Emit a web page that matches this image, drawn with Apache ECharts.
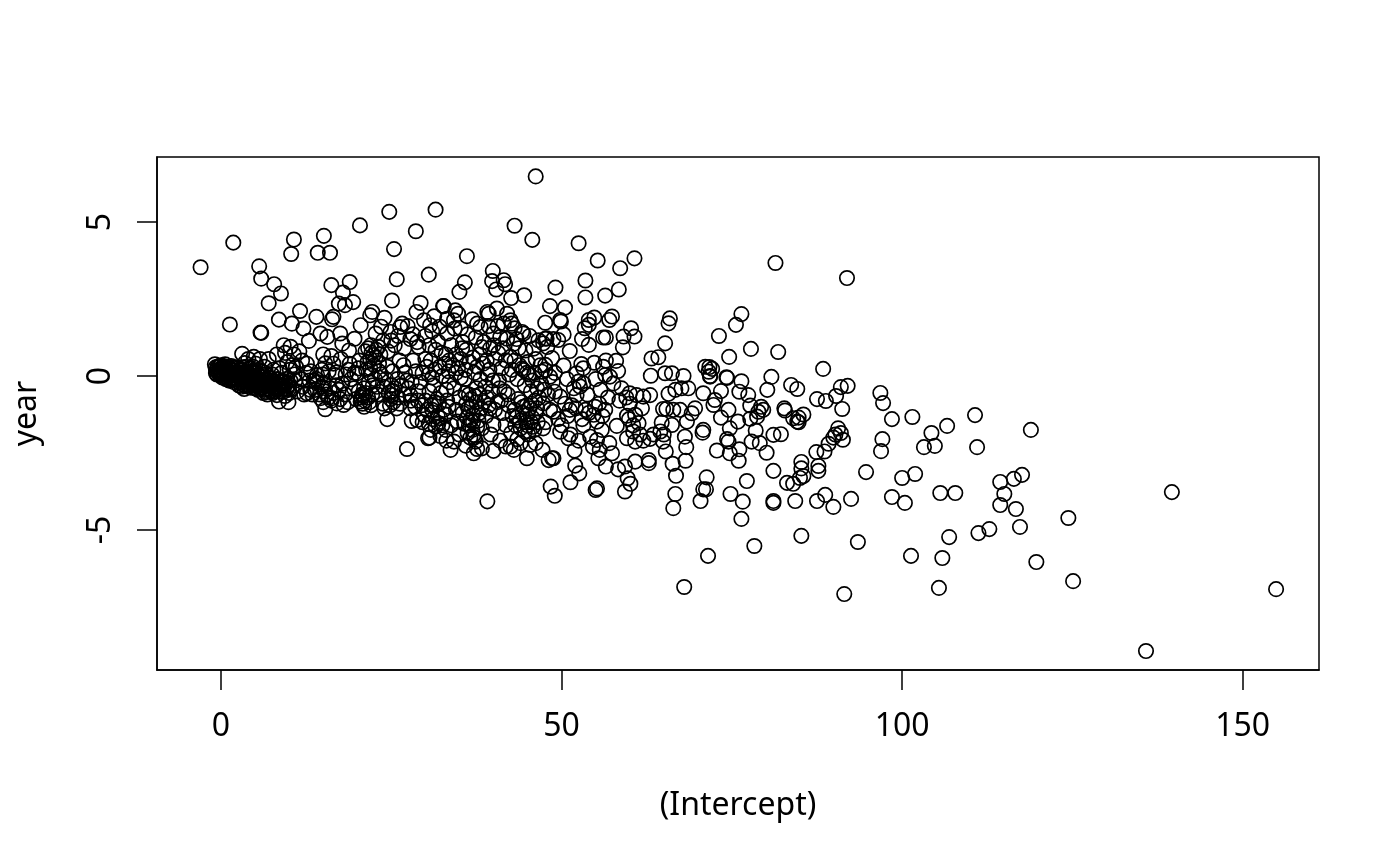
<!DOCTYPE html>
<html><head><meta charset="utf-8">
<script src="https://cdn.jsdelivr.net/npm/echarts@6/dist/echarts.min.js"></script>
<style>html,body{margin:0;padding:0;background:#fff}#c{width:1400px;height:866px}</style>
</head><body><div id="c"></div>
<script>
const xTicks=[0,50,100,150];
const yTicks=[-5,0,5];
const xName='(Intercept)';
const yName='year';
const pointsRight=[[154.9,-6.92],[135.8,-8.93],[139.6,-3.77],[125.1,-6.66],[124.4,-4.61],[119.7,-6.04],[118.9,-1.75],[117.6,-3.21],[116.4,-3.34],[114.4,-3.44],[115,-3.83],[114.4,-4.19],[116.7,-4.32],[117.3,-4.9],[112.8,-4.97],[111.2,-5.1],[106.9,-5.23],[105.9,-5.91],[105.4,-6.88],[101.3,-5.84],[93.5,-5.39],[91.5,-7.08],[71.5,-5.84],[68,-6.85],[78.3,-5.52],[76.4,-4.64],[85.2,-5.19],[89.9,-4.25],[92.5,-3.99],[87.5,-4.06],[88.7,-3.86],[84.3,-4.06],[81.1,-4.12],[81.1,-4.06],[83.1,-3.47],[84,-3.5],[81.1,-3.08],[85.5,-3.25],[85,-3.31],[85.2,-3],[85.2,-2.79],[87.7,-3.08],[87.7,-2.92],[87.4,-2.47],[94.7,-3.12],[98.5,-3.93],[100.4,-4.12],[100,-3.31],[101.9,-3.18],[105.6,-3.8],[107.8,-3.8],[111,-2.31],[110.7,-1.27],[106.6,-1.62],[104.3,-1.85],[104.8,-2.27],[103.2,-2.31],[101.5,-1.33],[98.5,-1.4],[97.2,-0.88],[96.8,-0.55],[97.1,-2.05],[96.9,-2.44],[92,-0.32],[91,-0.36],[91.2,-1.07],[90.3,-0.65],[88.8,-0.81],[87.5,-0.75],[88.4,0.23],[91.9,3.18],[81.4,3.67],[81.8,0.78],[77.8,0.88],[76.4,2.01],[75.6,1.66],[73.1,1.3],[74.6,0.62],[71.7,0.29],[72.1,0.23],[71.8,0],[74.3,-0.06],[80.8,-0.03],[80.2,-0.45],[83.7,-0.29],[84.6,-0.42],[91.3,-2.07],[90.6,-1.7],[91,-1.85],[90.2,-1.9],[89.9,-2],[88.6,-2.45],[89.2,-2.2],[82.7,-1.05],[82.8,-1.12],[84.8,-1.5],[85.5,-1.25]];
const pointsMiddle=[[52.5,4.31],[55.3,3.75],[58.6,3.5],[60.7,3.82],[53.5,3.1],[53.5,2.55],[56.4,2.61],[58.4,2.81],[50.5,2.22],[65.2,1.06],[65.9,1.87],[65.7,1.71],[60.2,1.55],[60.7,1.28],[59.1,1.28],[59,0.93],[57.4,1.93],[57,1.82],[54.8,1.9],[54,1.82],[54,1.66],[53.4,1.55],[53,1.2],[54,1.01],[56.1,1.25],[56.5,1.25],[51.2,0.81],[49.8,1.82],[49.9,1.77],[50.3,1.35],[49.5,1.17],[47.8,1.22],[47.3,1.06],[48.6,0.58],[47.6,0.36],[50.3,0.34],[52.9,0.39],[54.8,0.43],[56.5,0.5],[58,0.49],[56.1,0.3],[58.3,0.16],[52.2,0.09],[53.2,0.25],[48.3,-0.02],[47.1,0.14],[52.7,-0.34],[52.5,-0.18],[53.2,-0.24],[57.1,-0.02],[56.4,0.03],[57.6,-0.24],[55.7,-0.45],[58.8,-0.4],[60,-0.56],[61,-0.62],[63,-0.62],[62,-0.67],[63.1,0.01],[63.2,0.57],[64.2,0.61],[65.2,0.09],[66.2,0.09],[67.9,0],[65.7,-0.58],[66.7,-0.45],[67.6,-0.4],[68.6,-0.4],[71.1,0.3],[71.6,0.14],[71.8,-0.02],[74.2,-0.04],[76.4,-0.17],[73.4,-0.49],[70.8,-0.56],[76.1,-0.51],[77.4,-0.62],[77.7,-0.96],[79.3,-1],[79.6,-1.1],[78.9,-1.16],[78.7,-1.32],[77.7,-1.39],[84.8,-1.35],[84.6,-1.48],[84,-1.37],[82.2,-1.89],[81.1,-1.91],[78.5,-1.77],[75.9,-1.48],[74.7,-1.7],[74.5,-1.1],[73.4,-1.35],[72.3,-0.94],[72.5,-0.78],[70.8,-1.75],[70.7,-1.84],[68.4,-1.48],[69.6,-1.05],[69.1,-1.21],[67.4,-1.1],[66.4,-1.1],[65.4,-1.07],[64.9,-1.07],[64.7,-1.51],[66.2,-1.59],[64.5,-1.8],[63,-2.04],[61.8,-1.05],[59.6,-1.29],[60.8,-1.26],[61.3,-1.53],[60.5,-1.8],[59.6,-2.02],[60.8,-2.13],[58.1,-1.62],[56.4,-1.1],[54.9,-1],[54.7,-1.26],[55.2,-1.48],[55.9,-1.75],[54.2,-1.97],[55.2,-2.08],[57,-2.18],[55.6,-2.4],[57.4,-2.51],[55.4,-2.67],[56.5,-2.94],[58.3,-3.03],[59.3,-2.94],[60.8,-2.78],[62.8,-2.73],[62.8,-2.83],[64.9,-2.13],[65.3,-2.45],[66.3,-2.85],[68.2,-2.75],[68.3,-2.31],[68.1,-1.97],[66.8,-3.24],[66.7,-3.83],[66.4,-4.29],[70.4,-4.06],[70.8,-3.68],[71.2,-3.68],[71.3,-3.29],[77.2,-3.41],[74.8,-3.83],[76.6,-4.08],[72.8,-2.42],[74.3,-2.05],[74.5,-2.13],[74.7,-2.51],[76,-2.75],[76.1,-2.38],[77.9,-2.13],[79.1,-2.18],[80.1,-2.49],[59.3,-3.75],[60.1,-3.5],[59.7,-3.32],[55.2,-3.65],[55,-3.7],[51.3,-3.45],[52.6,-3.16],[52,-2.91],[49,-3.89],[48.4,-3.59],[48.8,-2.67],[48.1,-2.73],[51.9,-2.42],[51,-2.02],[49.8,-1.81],[47.3,-1.7],[51.2,-1.1],[48.8,-1.16],[49.8,-0.67],[52.2,-0.62],[49,-0.51],[48.3,-1.1],[47.3,-0.89],[50.5,-0.9],[50.9,-1.3],[51.5,-0.95],[52.1,-1.05],[53,-1.4],[53.5,-1.1],[54,-1.2],[55.5,-0.9],[56,-1.3],[48,-0.6],[47.6,-1.5],[49.5,-1.4],[50,-1.6],[51.3,-1.9],[52.5,-2.1],[53.2,-1.6],[54.6,-2.3],[48.7,-0.2],[50.8,-0.1],[49,0.1],[51.8,-0.4],[53.8,-0.6],[55,-0.1],[56.8,-0.7],[58.5,-0.8],[59.5,-0.7],[59.9,-1.4],[60.5,-1.6],[61.5,-1.9],[62,-2.1],[63.5,-1.9],[65,-1.9],[60,-0.9]];
const pointsUpperLeft=[[46.2,6.48],[24.7,5.33],[31.5,5.4],[20.4,4.89],[43.1,4.88],[28.6,4.7],[45.7,4.42],[1.8,4.33],[10.7,4.43],[15.1,4.55],[10.3,3.96],[14.2,4],[16,4],[25.4,4.12],[36.1,3.89],[-3,3.53],[5.6,3.56],[5.9,3.16],[7.8,2.98],[8.8,2.68],[7,2.36],[16.2,2.95],[18.9,3.05],[17.9,2.71],[19.4,2.4],[18.2,2.3],[17.3,2.35],[25.8,3.14],[30.5,3.29],[35.8,3.04],[35,2.73],[25.1,2.45],[39.9,3.41],[39.8,3.08],[41.5,3.11],[41.7,2.98],[40.4,2.81],[42.6,2.53],[44.5,2.62],[49.1,2.87],[48.3,2.27],[47.6,1.73],[1.3,1.67],[5.8,1.41],[5.9,1.4],[11.6,2.11],[8.5,1.83],[10.4,1.7],[12.1,1.54],[14,1.92],[16.3,1.84],[16.5,1.92],[14.6,1.38],[15.6,1.27],[12.9,1.14],[17.5,1.38],[17.8,1.05],[18.8,0.83],[19.6,1.21],[20.5,1.65],[21.9,1.97],[22.2,2.08],[24,1.89],[22.7,1.38],[24.9,1.43],[26.3,1.59],[26.6,1.7],[28.7,2.08],[29.3,2.37],[29.8,1.81],[30.7,1.65],[31.3,1.94],[32.6,2.27],[32.7,2.27],[34.4,2.13],[34.8,2.02],[33.2,1.86],[34.2,1.81],[33.2,1.38],[34.3,1.54],[35.5,1.1],[36.9,1.84],[37.6,1.7],[38.1,1.59],[39.1,2.08],[39.3,2.02],[40.5,2.19],[42,2.02],[41.5,1.7],[42.5,1.81],[42.7,1.7],[44.2,1.43],[44.4,1.38],[40,1.38],[41,1.27],[38.6,1.1],[38.3,0.94],[39.5,0.89],[42,1.21],[42.5,0.62],[41.8,0.51],[44.7,0.83],[45.9,0.89],[46.6,1.16],[47.6,1.21],[48.8,1.2],[47.9,0.94],[44.2,0.24],[44.4,0.19],[47.6,0.2],[46.9,0.35]];
const pointsLowerLeft=[[15.3,-1.08],[9.9,-0.85],[8.5,-0.83],[24,-1.05],[25.8,-1.05],[24.4,-1.4],[28,-1.46],[27.3,-2.37],[30.6,-2],[32.2,-1.95],[30.4,-2.02],[33.7,-2.4],[34.2,-2.13],[35.9,-2.26],[37.1,-2.51],[37.6,-2.37],[37.4,-2.13],[40,-2.43],[41.8,-2.29],[43,-2.4],[42.5,-2.29],[44.9,-2.67],[45.4,-2.24],[46.2,-2.18],[44,-2.18],[48.6,-2.67],[39.1,-4.07],[40,-1.59],[41.8,-1.59],[39.5,-1.05],[34.7,-1.48],[36.6,-1.43],[38.3,-1.7],[37.1,-1.91],[32.2,-1.37],[29.8,-1.27],[28.8,-1.43],[31.5,-1.64],[27.8,-1.05],[27.8,-0.62],[25.1,-0.62],[25.2,-0.48],[21,-1],[20.5,-0.83],[18,-0.94],[17,-0.89],[16.3,-0.72],[17.3,-0.45],[12.6,-0.56],[14.6,-0.72],[13.1,-0.45],[15.3,0.41],[14.1,0.03],[15.1,-0.24],[16.8,0.03],[17,0.12],[18.7,0.2],[20,0.09],[21.9,0.25],[22.4,0.68],[21,-0.4],[21.6,-0.7],[20.8,-0.9],[22,-0.95],[22.3,-0.3],[23,-0.6],[23.5,0.05],[20.3,0.5],[21.2,0.8],[22,1],[22.8,0.85],[21.5,0.45],[23.2,0.4],[24.5,0.8],[25.5,1],[26.2,0.5],[27,0.1],[28.2,0.5],[29,0.95],[30,0.55],[29.6,0.1],[28,-0.2],[26.5,-0.3],[24.2,-0.1],[30.5,0.05],[31.2,-0.3],[32.1,0.3],[33,0.7],[33.8,1],[35.2,0.55],[34.5,0.1],[33.5,-0.2],[35.8,-0.1],[36.5,0.45],[37.2,0.1],[38.5,0.4],[39.4,0.2],[40.2,0.55],[40.8,-0.15],[38.8,-0.35],[37.5,-0.4],[36.4,-0.6],[35,-0.7],[33.2,-0.8],[32,-0.9],[31,-1.1],[30,-0.8],[29,-0.5],[31.8,-1.3],[33,-1.25],[32.5,-1.6],[33.8,-1.6],[34.5,-1.1],[35.5,-1.2],[36,-0.9],[36.8,-1],[37.5,-0.85],[37.9,-1.2],[37,-1.5],[37.6,-1.65],[38.2,-1.05],[39,-0.7],[39.8,-0.5],[40.6,-0.85],[41.4,-1.2],[42.2,-0.95],[43.1,-1.1],[43.6,-0.75],[44.4,-1],[45,-1.25],[45.6,-0.9],[46.2,-1.2],[46.5,-1.5],[45.8,-1.65],[44.8,-1.5],[44,-1.7],[43.2,-1.6],[42.6,-1.85],[45.1,-1.9],[46.7,-0.7],[45.5,-0.5],[44.6,-0.3],[43.5,-0.1],[42.7,0.2],[41.6,-0.5],[46,0.1],[45.2,0.05],[47,-0.25],[28.5,-1],[26.3,-0.9],[25,-0.3],[23.8,-0.9],[19.5,-0.4],[18.9,0.4],[19.8,-0.75],[20.7,-0.6],[38.3,-2.35],[36.2,-1.85],[35,-1.9],[33.1,-2.1],[30.8,-1.75],[29.6,-1.5],[41,-2.1],[39.6,-1.9],[43.5,-2.05],[47.2,-2.4],[11,0.3],[11.8,-0.1],[12.5,0.1],[13.4,-0.6],[14,-0.1],[15.5,-0.6],[16,-0.4],[11.2,-0.5],[12,-0.35],[14.8,0.2],[16.2,-0.8],[15.8,0.15],[8.2,0.7],[9.2,1],[10.2,0.95],[10.7,0.7],[9.7,0.45],[11.5,0.8],[12.6,0.4],[8.6,0.25],[9.4,0.75],[10.1,0.2]];
const pointsDense=[[21.6,0.9],[22.1,0.75],[22.7,0.6],[23.1,0.95],[21.9,0.55],[22.5,0.35],[23.4,0.7],[21.3,0.2],[22,0.05],[22.6,-0.1],[23.2,0.15],[21.7,-0.2],[22.9,-0.35],[21.2,-0.55],[22.2,-0.6],[21.8,-0.85],[20.6,-0.7],[20.2,-0.5],[21.1,-0.8],[20.9,-0.65],[14.2,-0.2],[14.8,-0.35],[15.2,-0.5],[13.8,-0.45],[14.5,-0.6],[15.8,-0.7],[16.5,-0.55],[15,-0.85],[13.6,-0.15],[14.9,0.05],[16.9,-0.3],[17.5,-0.75],[18.2,-0.6],[17.8,-0.25],[18.6,-0.85],[24.4,0.3],[25.2,0.15],[25.9,-0.1],[26.8,0.35],[27.5,-0.4],[28.6,0.15],[29.3,-0.2],[30.2,0.3],[30.8,0.5],[31.5,0.2],[31,-0.05],[32.5,0],[32.9,0.4],[33.4,0.15],[34,0.35],[34.8,0.25],[35.2,-0.05],[34.2,-0.4],[35.9,0.2],[33.1,-0.45],[32.3,-0.55],[31.7,-0.75],[30.6,-0.5],[30.9,-0.95],[31.4,-0.85],[30.2,-1.1],[32.7,-1.1],[31.9,-1.55],[33.4,-1],[31.1,-1.4],[30.5,-1.55],[33,-1.75],[35.9,-0.55],[36.3,-1.05],[36.7,-0.75],[37,-1.25],[36.1,-1.35],[37.3,-0.65],[36.9,-1.75],[37.8,-1.45],[38.6,-0.85],[36.4,-1.6],[35.7,-1.55],[38,-0.6],[38.9,-1.3],[39.3,-0.95],[37.2,-2],[36.6,-2],[44.3,-1.2],[44.9,-0.95],[45.3,-1.05],[45.7,-1.35],[46.1,-0.8],[45,-1.6],[44.6,-1.8],[46,-1.75],[46.4,-1.05],[45.5,-1.5],[44.1,-0.85],[43.4,-1.35],[42.8,-1.3],[43.9,-1.45],[42.1,-0.6],[41.1,-0.8],[40.2,-1.1],[40.9,-0.4],[39.9,-0.15],[39.1,0.05],[38.1,-0.1],[37.6,0.3],[43.1,0.5],[43.8,0.35],[44.9,0.1],[45.7,-0.15],[46.4,-0.4],[47.5,-0.45],[24.6,-0.55],[23.9,-0.35],[24.9,-0.75],[25.5,-0.4],[26,-0.7],[26.9,-0.6],[27.3,-0.15],[27.9,-0.8],[28.9,-0.8],[29.5,-0.95],[24.8,-0.95],[25.3,-0.85],[19.1,-0.1],[19.6,0.1],[20.2,0.25],[18.3,0.05],[40,1],[40.7,0.75],[41.4,0.9],[39,0.5],[38,0.7],[37,0.6],[36,0.85],[35.4,0.9],[34.5,0.7],[33.5,0.5],[32.4,0.75],[31.5,0.85],[30.6,1],[31.9,1.1],[30,1.3],[28.8,1.1],[27.8,1.2],[26.9,0.9],[26,1.3],[25,1.15],[23.8,1.15],[23.5,1.6],[43,1.05],[43.7,0.9],[46.2,0.55],[45,0.45],[42.3,0.05],[41.2,0.25],[10.9,-0.15],[11.9,0.5],[13.2,0.15],[13,-0.15],[12.2,-0.6],[10.5,0.35],[10.8,0.05],[17.6,0.55],[16.5,0.4],[16.2,0.65],[15,0.7],[27.4,1.62],[28.2,1.35],[31,1.45],[32.1,1.6],[35.2,1.55],[36.2,1.35],[37.4,1.25],[39.3,1.62],[43.1,1.55],[45.3,1.3],[43.4,1.2],[40.6,1.62]];
const pointsCluster=[[-0.9,0.38],[-0.7,0.18],[-0.6,0.05],[-0.5,0.3],[-0.4,0.12],[-0.2,0.22],[-0.1,0.02],[0,0.35],[0.1,0.15],[0.2,-0.05],[0.3,0.25],[0.4,0.08],[0.6,0.38],[0.7,-0.1],[0.8,0.18],[0.9,0.02],[1.1,0.3],[1.2,-0.15],[1.3,0.1],[1.5,0.32],[1.6,-0.05],[1.7,0.18],[1.9,-0.2],[2,0.05],[2.2,0.28],[2.3,-0.12],[2.4,0.12],[2.6,-0.3],[2.7,0],[2.9,0.22],[3,-0.35],[3.1,0.72],[3.2,-0.1],[3.3,0.1],[3.4,-0.42],[3.5,0.42],[3.6,-0.22],[3.8,0.05],[3.9,-0.3],[4,0.55],[4.1,-0.12],[4.2,0.25],[4.4,-0.38],[4.5,0.02],[4.6,-0.2],[4.8,0.62],[4.9,0.12],[5,-0.3],[5.1,0.4],[5.3,-0.08],[5.4,-0.45],[5.5,0.2],[5.6,-0.22],[5.8,0],[5.9,-0.38],[6,0.15],[6.2,-0.55],[6.3,-0.15],[6.5,-0.3],[6.6,0.05],[6.8,-0.6],[6.9,-0.22],[7,0.55],[7.1,-0.42],[7.3,-0.08],[7.4,-0.3],[7.6,-0.55],[7.7,0.2],[7.9,-0.18],[8,-0.4],[8.2,-0.62],[8.3,-0.1],[8.5,-0.28],[8.7,-0.5],[8.9,0.1],[9,-0.2],[9.2,-0.4],[9.4,-0.65],[9.6,-0.1],[9.8,-0.32],[10,-0.55],[10.2,-0.15],[10.4,-0.42],[2.5,0.25],[3.7,0.3],[4.7,0.3],[5.7,0.55],[6.4,0.3],[1.8,-0.1],[4.3,-0.05],[5.2,-0.15],[6.1,-0.05],[7.5,0.05],[0.5,0.1],[1.4,0.05],[2.8,0.1],[-0.8,0.28],[-0.3,0.08],[0.15,0.28],[0.55,-0.02],[1,0.12],[1.55,0.2],[2.1,-0.08],[2.65,0.18],[3.05,-0.2],[3.45,0.02],[3.95,-0.1],[4.35,0.12],[4.75,-0.28],[5.15,-0.02],[5.65,-0.3],[6.05,-0.25],[6.45,-0.12],[6.95,-0.35],[7.25,-0.22],[7.65,-0.28],[8.05,-0.25],[8.4,-0.42],[8.85,-0.32],[9.1,-0.52],[9.5,-0.25],[9.9,-0.45],[3.25,-0.28],[4.05,-0.35],[5.05,-0.4],[6.35,-0.45],[7.35,-0.5],[-0.75,0.1],[-0.25,0.32],[0.05,0.08],[0.35,0.32],[0.75,0.28],[0.95,-0.06],[1.25,0.24],[1.45,-0.12],[1.75,0.06],[2.05,0.18],[2.35,0],[2.55,-0.2],[2.85,-0.1],[3.15,0.28],[3.35,-0.02],[3.65,0.14],[3.85,-0.18],[4.15,0.05],[4.45,-0.1],[4.65,0.15],[4.95,-0.12],[5.25,0.1],[5.45,-0.3],[5.75,-0.12],[5.95,0.05],[6.25,-0.32],[6.55,-0.42],[6.75,-0.1],[7.05,-0.05],[7.15,-0.3],[7.45,-0.15],[7.85,-0.38],[8.15,-0.12],[8.55,-0.4],[8.75,-0.18],[9.05,-0.32],[9.35,-0.18],[9.65,-0.42],[10.05,-0.28],[6.65,-0.52],[5.55,-0.38],[4.55,-0.3],[3.55,-0.32],[2.75,-0.22],[8.95,-0.45],[7.95,-0.5]];
const allPoints=[...pointsRight,...pointsMiddle,...pointsUpperLeft,...pointsLowerLeft,...pointsDense,...pointsCluster];

const font='"Noto Sans"';
const chart=echarts.init(document.getElementById('c'),null,{renderer:'canvas'});
chart.setOption({
  animation:false,
  backgroundColor:'#fff',
  grid:{left:157,top:157,width:1162,height:513,outerBoundsMode:'none',containLabel:false,show:true,borderColor:'#000',borderWidth:1.5,backgroundColor:'transparent'},
  xAxis:{type:'value',min:-9.4,max:161.2,name:xName,nameLocation:'middle',nameGap:120,
    nameTextStyle:{fontFamily:font,fontSize:32,color:'#000'},
    splitLine:{show:false},
    axisLine:{show:true,onZero:false,lineStyle:{color:'#000',width:1.5}},
    axisTick:{show:true,length:20,customValues:xTicks,lineStyle:{color:'#000',width:1.5}},
    axisLabel:{show:true,customValues:xTicks,margin:41,fontFamily:font,fontSize:32,color:'#000'}},
  yAxis:{type:'value',min:-9.545,max:7.11,name:yName,nameLocation:'middle',nameGap:114,nameRotate:90,
    nameTextStyle:{fontFamily:font,fontSize:32,color:'#000'},
    splitLine:{show:false},
    axisLine:{show:true,onZero:false,lineStyle:{color:'#000',width:1.5}},
    axisTick:{show:true,length:20,customValues:yTicks,lineStyle:{color:'#000',width:1.5}},
    axisLabel:{show:true,customValues:yTicks,rotate:90,margin:40,fontFamily:font,fontSize:32,color:'#000'}},
  series:[{type:'scatter',data:allPoints,symbol:'circle',symbolSize:14.4,progressive:0,large:false,silent:true,
    itemStyle:{color:'transparent',borderColor:'#000',borderWidth:1.7,opacity:1},
    emphasis:{disabled:true}}]
});
</script></body></html>
